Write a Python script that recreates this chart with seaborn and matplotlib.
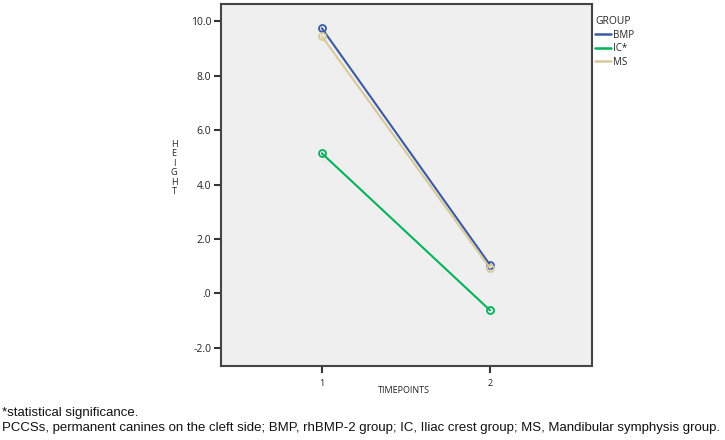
import pandas as pd
import matplotlib
matplotlib.use("Agg")
import matplotlib.pyplot as plt
import seaborn as sns
from matplotlib.lines import Line2D

# values
timepoints = [1, 2]
bmp = [9.75, 1.05]
ic = [5.15, -0.62]
ms = [9.45, 0.93]
groups = ["BMP", "IC*", "MS"]
colors = {"BMP": "#3b5aa3", "IC*": "#00b35a", "MS": "#d8c99b"}
y_ticks = [-2.0, 0.0, 2.0, 4.0, 6.0, 8.0, 10.0]
y_tick_labels = ["-2.0", ".0", "2.0", "4.0", "6.0", "8.0", "10.0"]

df = pd.DataFrame({
    "TIMEPOINTS": timepoints * 3,
    "HEIGHT": bmp + ic + ms,
    "GROUP": [g for g in groups for _ in timepoints],
})

sns.set_style("white")
plt.rcParams["font.family"] = ["Open Sans", "DejaVu Sans"]

fig = plt.figure(figsize=(7.25, 4.4), dpi=100)
ax = fig.add_axes([221 / 725, 1 - 366 / 440, (592 - 221) / 725, (366 - 4) / 440])
ax.set_facecolor("#efefef")

sns.lineplot(data=df, x="TIMEPOINTS", y="HEIGHT", hue="GROUP", hue_order=groups,
             palette=colors, marker="o", markersize=5, markerfacecolor="none",
             markeredgewidth=1.3, linewidth=1.5, legend=False, ax=ax)
for line in ax.lines:
    line.set_markeredgecolor(line.get_color())

ax.set_xlim(0.4, 2.607)
ax.set_ylim(-2.67, 10.64)
ax.set_xticks(timepoints)
ax.set_xticklabels(["1", "2"])
ax.set_yticks(y_ticks)
ax.set_yticklabels(y_tick_labels)
ax.tick_params(axis="both", direction="out", length=5, width=1.5, color="#333333",
               labelsize=7.5, labelcolor="#222222", left=True, bottom=True, pad=2)
ax.tick_params(axis="x", labelsize=6.5, pad=4)
for side in ax.spines.values():
    side.set_color("#444444")
    side.set_linewidth(1.5)

ax.set_xlabel("")
ax.set_ylabel("")
fig.text(404 / 725, 1 - 390 / 440, "TIMEPOINTS", ha="center", va="center",
         fontsize=6.5, color="#222222")
fig.text(174 / 725, 1 - 168 / 440, "H\nE\nI\nG\nH\nT", ha="center", va="center",
         fontsize=6.5, color="#222222", linespacing=1.05)

handles = [Line2D([0], [0], color=colors[g], lw=1.8) for g in groups]
leg = ax.legend(handles, groups, title="GROUP", loc="upper left",
                bbox_to_anchor=(1.005, 0.97), frameon=False, fontsize=7,
                title_fontsize=7.5, handlelength=1.6, handletextpad=0.2,
                labelspacing=0.25, borderaxespad=0.0, borderpad=0.15)
leg._legend_box.align = "left"

fig.text(2 / 725, 1 - 413 / 440, "*statistical significance.", ha="left",
         va="center", fontsize=9.5, color="#111111", family="Liberation Sans")
fig.text(2 / 725, 1 - 428 / 440,
         "PCCSs, permanent canines on the cleft side; BMP, rhBMP-2 group; IC, Iliac crest group; MS, Mandibular symphysis group.",
         ha="left", va="center", fontsize=9.5, color="#111111", family="Liberation Sans")

fig.savefig("out.png", dpi=100)
